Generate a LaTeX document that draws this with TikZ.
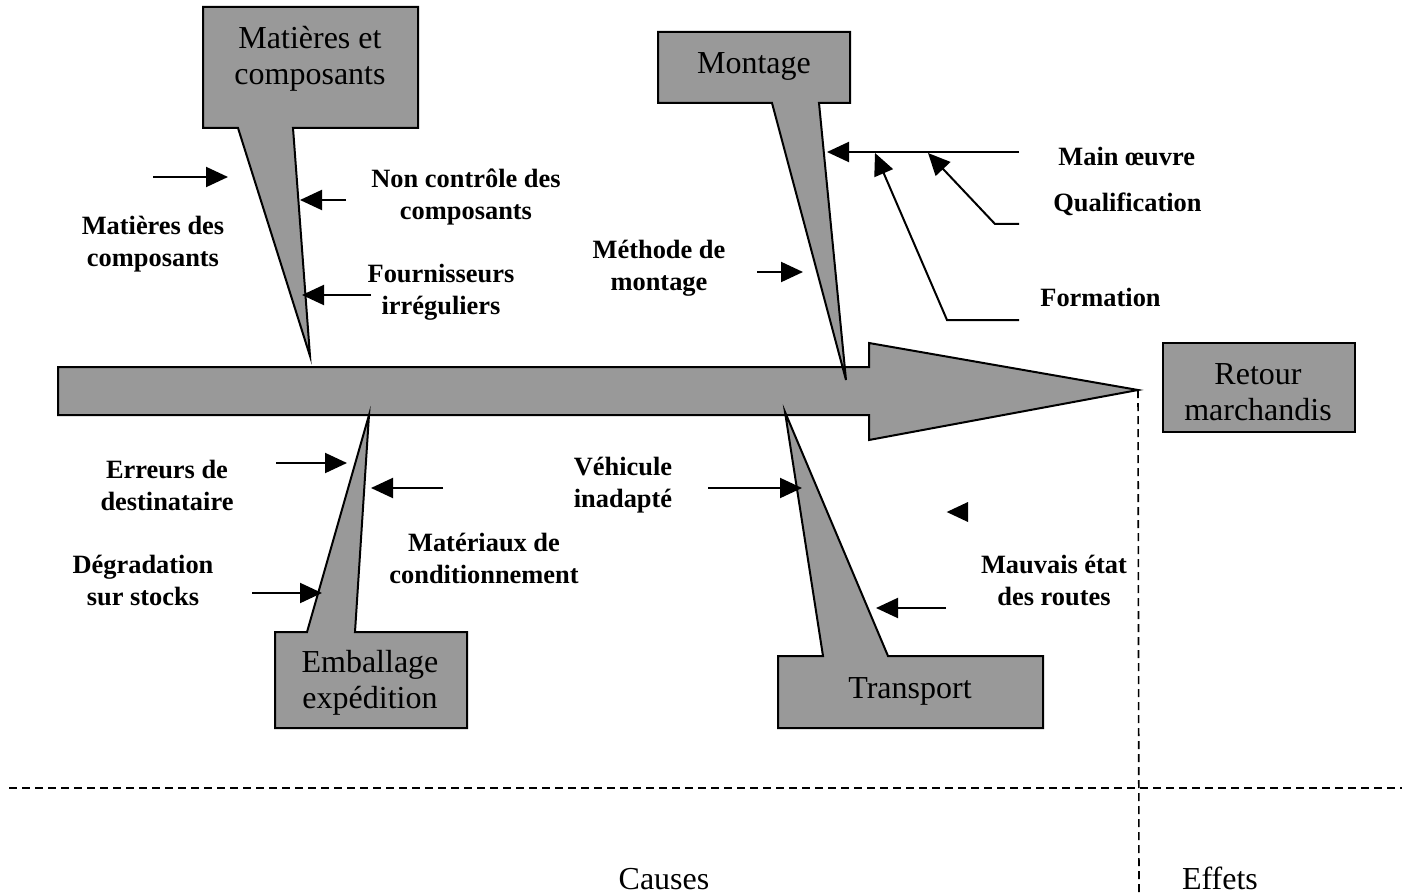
\documentclass[tikz,border=0pt]{standalone}
\usepackage{fontspec}
\setmainfont{Liberation Serif}
\usetikzlibrary{arrows.meta}
\definecolor{bonegray}{HTML}{999999}
\begin{document}
\begin{tikzpicture}[x=0.5pt,y=-0.5pt,
  bone/.style={fill=bonegray,draw=black,line width=1pt,line join=miter},
  boxtext/.style={inner sep=0pt,align=center,font=\fontsize{16}{18}\selectfont},
  lbl/.style={inner sep=0pt,align=center,font=\fontsize{13.2}{16}\selectfont\bfseries},
  lbll/.style={inner sep=0pt,anchor=west,font=\fontsize{13.2}{16}\selectfont\bfseries},
  cause/.style={draw=black,line width=1pt,-{Triangle[length=11pt,width=10pt]}},
  sep/.style={draw=black,line width=0.8pt,dash pattern=on 4pt off 2.5pt}]
\useasboundingbox (0,0) rectangle (1402,893);

% main arrow
\draw[bone] (58,367) -- (869,367) -- (869,343) -- (1138,390) -- (869,440) -- (869,415) -- (58,415) -- cycle;
\coordinate (tip) at (1138,390);

% bones
\draw[bone] (203,7) -- (418,7) -- (418,128) -- (293,128) -- (310,356) -- (238,128) -- (203,128) -- cycle;
\draw[bone] (658,32) -- (850,32) -- (850,103) -- (819,103) -- (846,380) -- (772,103) -- (658,103) -- cycle;
\draw[bone] (369,415) -- (355,632) -- (467,632) -- (467,728) -- (275,728) -- (275,632) -- (307,632) -- cycle;
\draw[bone] (785,412) -- (888,656) -- (1043,656) -- (1043,728) -- (778,728) -- (778,656) -- (823,656) -- cycle;
\draw[bone] (1163,343) rectangle (1355,432);

% box texts
\node[boxtext] (mat) at (310,59) {Matières et\\composants};
\node[boxtext] (mon) at (754,66) {Montage};
\node[boxtext] (emb) at (370,683) {Emballage\\expédition};
\node[boxtext] (tra) at (910,691) {Transport};
\node[boxtext] (ret) at (1258,392) {Retour\\marchandis};

% cause labels
\node[lbl] (l1) at (153,244) {Matières des\\composants};
\node[lbl] (l2) at (466,197) {Non contrôle des\\composants};
\node[lbl] (l3) at (441,292) {Fournisseurs\\irréguliers};
\node[lbl] (l4) at (659,268) {Méthode de\\montage};
\node[lbll] (l5) at (1058,157) {Main œuvre};
\node[lbll] (l6) at (1053,204) {Qualification};
\node[lbll] (l7) at (1040,297) {Formation};
\node[lbl] (l8) at (167,485) {Erreurs de\\destinataire};
\node[lbl] (l9) at (143,580) {Dégradation\\sur stocks};
\node[lbl] (l10) at (484,558) {Matériaux de\\conditionnement};
\node[lbl] (l11) at (623,485) {Véhicule\\inadapté};
\node[lbl] (l12) at (1054,580) {Mauvais état\\des routes};

% cause arrows
\coordinate (a1s) at (153,177); \coordinate (a1e) at (228,177);
\coordinate (a2s) at (346,200); \coordinate (a2e) at (300,200);
\coordinate (a3s) at (371,295); \coordinate (a3e) at (302,295);
\coordinate (a4s) at (757,272); \coordinate (a4e) at (803,272);
\coordinate (a5s) at (1019,152); \coordinate (a5e) at (827,152);
\coordinate (a6s) at (1019,224); \coordinate (a6m) at (995,224); \coordinate (a6e) at (928,153);
\coordinate (a7s) at (1019,320); \coordinate (a7m) at (947,320); \coordinate (a7e) at (875,153);
\coordinate (a8s) at (276,463); \coordinate (a8e) at (347,463);
\coordinate (a9s) at (443,488); \coordinate (a9e) at (371,488);
\coordinate (a10s) at (252,593); \coordinate (a10e) at (322,593);
\coordinate (a11s) at (708,488); \coordinate (a11e) at (802,488);
\coordinate (a12s) at (946,608); \coordinate (a12e) at (876,608);
\draw[cause] (a1s) -- (a1e);
\draw[cause] (a2s) -- (a2e);
\draw[cause] (a3s) -- (a3e);
\draw[cause] (a4s) -- (a4e);
\draw[cause] (a5s) -- (a5e);
\draw[cause] (a6s) -- (a6m) -- (a6e);
\draw[cause] (a7s) -- (a7m) -- (a7e);
\draw[cause] (a8s) -- (a8e);
\draw[cause] (a9s) -- (a9e);
\draw[cause] (a10s) -- (a10e);
\draw[cause] (a11s) -- (a11e);
\draw[cause] (a12s) -- (a12e);
% lone arrowhead
\fill[black] (946.7,512) -- (968,502) -- (968,522) -- cycle;

% separators
\coordinate (vb) at (1139,893);
\coordinate (hl) at (9,788); \coordinate (hr) at (1402,788);
\draw[sep] (tip) -- (vb);
\draw[sep] (hl) -- (hr);

\node[boxtext,anchor=base] (causes) at (664,889) {Causes};
\node[boxtext,anchor=base] (effets) at (1220,889) {Effets};
\end{tikzpicture}
\end{document}
